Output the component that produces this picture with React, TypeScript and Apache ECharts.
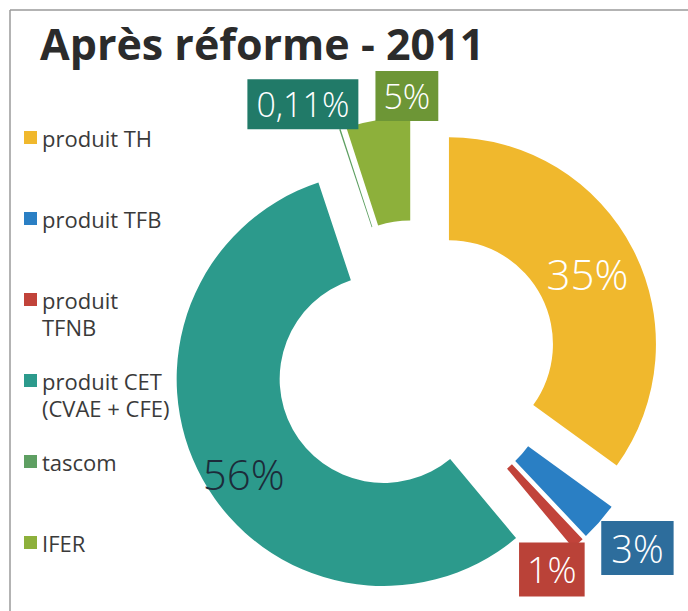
import React, { useEffect, useRef } from 'react';
import * as echarts from 'echarts';

// ---- data ----
const CATEGORIES = ['produit TH', 'produit TFB', 'produit TFNB', 'produit CET (CVAE + CFE)', 'tascom', 'IFER'];
// legend texts (first line of every entry sits next to its marker)
const LEGEND_LINES = [['produit TH'], ['produit TFB'], ['produit', 'TFNB'], ['produit CET', '(CVAE + CFE)'], ['tascom'], ['IFER']];
const VALUES = [35, 3, 1, 56, 0.11, 5];
const VALUE_LABELS = ['35%', '3%', '1%', '56%', '0,11%', '5%'];
const TITLE = 'Après réforme - 2011';

// ---- styles ----
const SLICE_COLORS = ['#F0B82D', '#2A7FC4', '#C1433A', '#2C9A8C', '#5E9F62', '#8DB03B'];
const LABEL_BG = ['transparent', '#2D6D9C', '#BA4238', 'transparent', '#217A68', '#6D9636'];
const LABEL_COLOR = ['#ffffff', '#ffffff', '#ffffff', '#1C2B3A', '#ffffff', '#ffffff'];
const LABEL_SIZE = [42, 38, 36, 42, 34, 34];
const LABEL_PAD = [[0, 0], [8, 10], [9, 8], [0, 0], [8, 9], [8, 8]];
const LABEL_AT_OUTER = [false, true, true, false, true, true];
const LABEL_SHIFT = [[0, 0], [38, 26], [-26, 26], [-4, 19], [-37, -25], [29, -24]];

const CENTER = [416, 361];
const RADII = [104, 207];
const EXPLODE = 37;
const LEGEND_LINE_H = 27;
const FONT = '"Open Sans", "Noto Sans", sans-serif';

export default function App() {
  const ref = useRef<HTMLDivElement>(null);

  useEffect(() => {
    if (!ref.current) return;
    const chart = echarts.init(ref.current, null, { renderer: 'svg' });

    const total = VALUES.reduce((a, b) => a + b, 0);
    const mids: number[] = [];
    let cum = 0;
    VALUES.forEach((v) => {
      mids.push(((cum + v / 2) / total) * Math.PI * 2);
      cum += v;
    });

    const labelPos = (i: number) => {
      const a = mids[i];
      const rho = LABEL_AT_OUTER[i] ? RADII[1] : (RADII[0] + RADII[1]) / 2;
      const d = EXPLODE + rho;
      return [
        CENTER[0] + d * Math.sin(a) + LABEL_SHIFT[i][0],
        CENTER[1] - d * Math.cos(a) + LABEL_SHIFT[i][1],
      ];
    };

    // Two-line entries get an empty leading line so that their first line is centred on the marker.
    const legendText = (i: number) =>
      LEGEND_LINES[i].length > 1 ? '\n' + LEGEND_LINES[i].join('\n') : LEGEND_LINES[i][0];

    const option: any = {
      animation: false,
      backgroundColor: '#ffffff',
      title: {
        text: TITLE,
        left: 40,
        top: 22,
        padding: 0,
        textStyle: { fontFamily: FONT, fontWeight: 'bold', fontSize: 43, color: '#2B2B2B' },
      },
      legend: {
        orient: 'vertical',
        left: 24,
        top: 97,
        padding: 0,
        itemGap: 0,
        itemWidth: 13,
        itemHeight: 13,
        icon: 'rect',
        selectedMode: false,
        data: CATEGORIES.map((n, i) => ({
          name: n,
          textStyle: {
            padding: LEGEND_LINES[i].length > 1 ? [0, 0, 0, 0] : [LEGEND_LINE_H, 0, LEGEND_LINE_H, 0],
          },
        })),
        formatter: (n: string) => legendText(CATEGORIES.indexOf(n)),
        textStyle: { fontFamily: FONT, fontSize: 22, color: '#3A3A3A', lineHeight: LEGEND_LINE_H },
      },
      graphic: [
        { type: 'line', shape: { x1: 10, y1: 10, x2: 688, y2: 10 }, style: { stroke: '#9A9A9A', lineWidth: 1.5 } },
        { type: 'line', shape: { x1: 10, y1: 10, x2: 10, y2: 611 }, style: { stroke: '#9A9A9A', lineWidth: 1.5 } },
      ],
      series: [
        {
          // exploded slices
          type: 'pie',
          center: CENTER,
          radius: RADII,
          startAngle: 90,
          clockwise: true,
          selectedMode: 'multiple',
          selectedOffset: EXPLODE,
          emphasis: { disabled: true },
          label: { show: false },
          labelLine: { show: false },
          data: CATEGORIES.map((n, i) => ({
            name: n,
            value: VALUES[i],
            selected: true,
            itemStyle: { color: SLICE_COLORS[i] },
          })),
        },
        {
          // value labels of the same slices
          type: 'pie',
          center: CENTER,
          radius: RADII,
          startAngle: 90,
          clockwise: true,
          silent: true,
          selectedMode: false,
          avoidLabelOverlap: false,
          emphasis: { disabled: true },
          labelLine: { show: false },
          itemStyle: { color: 'rgba(0,0,0,0)' },
          data: CATEGORIES.map((n, i) => ({
            name: n,
            value: VALUES[i],
            itemStyle: { color: 'rgba(0,0,0,0)' },
            label: {
              show: true,
              position: 'inside',
              formatter: VALUE_LABELS[i],
              color: LABEL_COLOR[i],
              fontFamily: FONT,
              fontWeight: 300,
              fontSize: LABEL_SIZE[i],
              lineHeight: LABEL_SIZE[i],
              backgroundColor: LABEL_BG[i],
              padding: LABEL_PAD[i],
            },
          })),
          labelLayout: (params: any) => {
            const [x, y] = labelPos(params.dataIndex);
            return { x, y, align: 'center', verticalAlign: 'middle' };
          },
        },
      ],
    };

    chart.setOption(option);
    return () => chart.dispose();
  }, []);

  return (
    <div
      ref={ref}
      style={{ position: 'absolute', left: 0, top: 0, width: 688, height: 611 }}
    />
  );
}
